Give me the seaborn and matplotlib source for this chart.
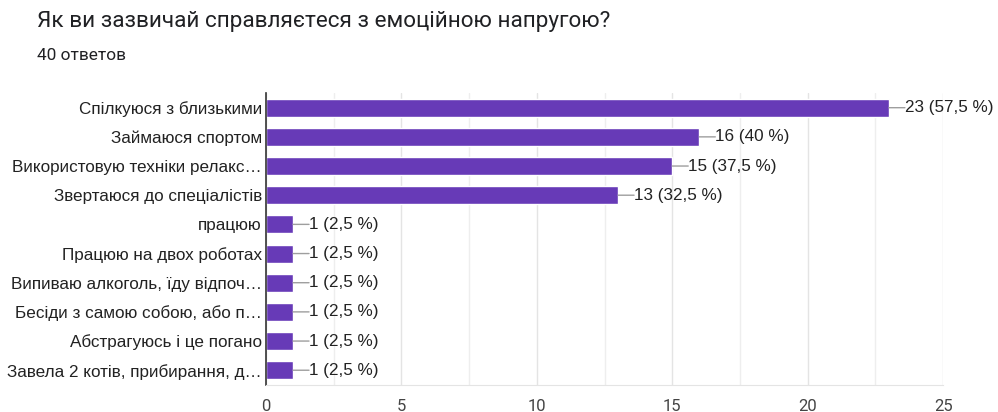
import matplotlib
matplotlib.use("Agg")
import matplotlib.pyplot as plt
import seaborn as sns
import pandas as pd
from matplotlib.ticker import MultipleLocator

title = "Як ви зазвичай справляєтеся з емоційною напругою?"
subtitle = "40 ответов"
categories = [
    "Спілкуюся з близькими",
    "Займаюся спортом",
    "Використовую техніки релакс…",
    "Звертаюся до спеціалістів",
    "працюю",
    "Працюю на двох роботах",
    "Випиваю алкоголь, їду відпоч…",
    "Бесіди з самою собою, або п…",
    "Абстрагуюсь і це погано",
    "Завела 2 котів, прибирання, д…",
]
counts = [23, 16, 15, 13, 1, 1, 1, 1, 1, 1]
value_labels = ["23 (57,5 %)", "16 (40 %)", "15 (37,5 %)", "13 (32,5 %)",
                "1 (2,5 %)", "1 (2,5 %)", "1 (2,5 %)", "1 (2,5 %)", "1 (2,5 %)", "1 (2,5 %)"]
x_ticks = [0, 5, 10, 15, 20, 25]

sns.set_style("white")
plt.rcParams['font.family'] = ['Roboto', 'DejaVu Sans']
label_font = ['Liberation Sans', 'DejaVu Sans']

df = pd.DataFrame({"category": categories, "count": counts})

fig = plt.figure(figsize=(9.98, 4.12), dpi=100)
ax = fig.add_axes([0.2665, 0.066, 0.6785, 0.708])

sns.barplot(data=df, y="category", x="count", orient="h", color="#673ab7",
            saturation=1, width=0.62, ax=ax)

ax.set_xlim(0, 25)
ax.set_ylim(len(categories) - 0.5, -0.5)
ax.xaxis.set_major_locator(MultipleLocator(5))
ax.xaxis.set_minor_locator(MultipleLocator(2.5))
ax.set_xticks(x_ticks)
ax.grid(True, axis="x", which="major", color="#e4e4e4", lw=1)
ax.grid(True, axis="x", which="minor", color="#eeeeee", lw=1)
ax.set_axisbelow(True)
for s in ["top", "right"]:
    ax.spines[s].set_visible(False)
ax.spines["bottom"].set_color("#e4e4e4")
ax.spines["left"].set_color("#333333")
ax.spines["left"].set_linewidth(1.2)
ax.set_xlabel("")
ax.set_ylabel("")
ax.tick_params(axis="x", which="both", length=0, labelsize=12, labelcolor="#444444", pad=10)
ax.tick_params(axis="y", length=0, labelsize=12.3, labelcolor="#222222", pad=3)
for t in ax.get_yticklabels():
    t.set_family(label_font)

for i, (v, lab) in enumerate(zip(counts, value_labels)):
    ax.annotate("", xy=(v, i), xytext=(11.5, 0), textcoords="offset points",
                arrowprops=dict(arrowstyle="-", color="#9e9e9e", lw=1,
                                shrinkA=0, shrinkB=0))
    ax.annotate(lab, xy=(v, i), xytext=(11.5, 0), textcoords="offset points",
                ha="left", va="center", fontsize=12.3, color="#222222",
                family=label_font)

fig.text(37 / 998, 1 - 22 / 412, title, fontsize=16.2, color="#202124",
         ha="left", va="center")
fig.text(37 / 998, 1 - 55 / 412, subtitle, fontsize=12.4, color="#202124",
         ha="left", va="center")

fig.savefig("out.png", dpi=100, facecolor="white")
